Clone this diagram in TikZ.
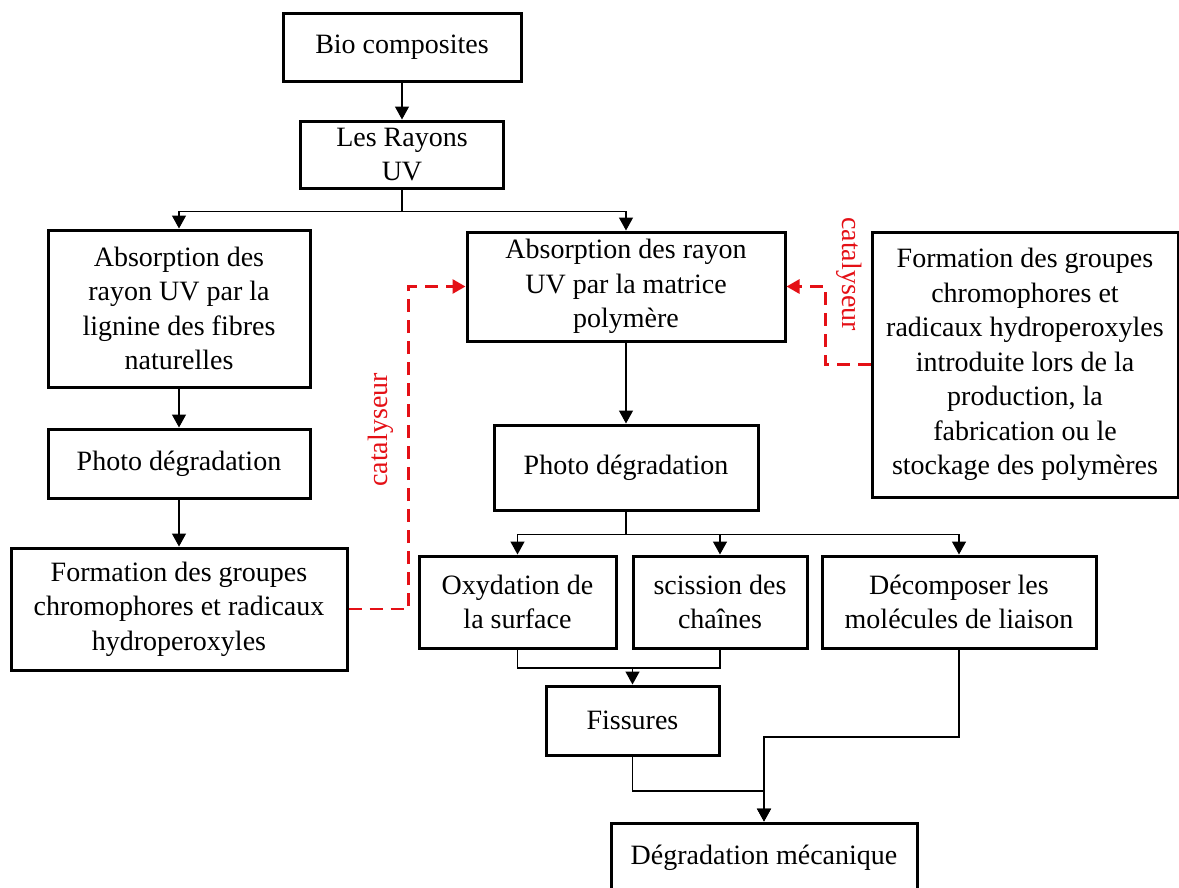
\documentclass[tikz,border=0pt]{standalone}
\usepackage{fontspec}
\setmainfont{Liberation Serif}
\usetikzlibrary{arrows.meta,positioning,calc}
\definecolor{catred}{RGB}{228,16,22}

\begin{document}
\begin{tikzpicture}[x=1pt, y=-1pt, >={Triangle[width=14pt,length=13pt]}]
\tikzstyle{box} = [draw, rectangle, line width=3pt, inner sep=0pt, align=center, font=\fontsize{28}{34.5}\selectfont]
\tikzstyle{link} = [line width=1.4pt]
\tikzstyle{catline} = [draw=catred, line width=2.8pt, dash pattern=on 13pt off 8pt, ->]
\tikzstyle{catlab} = [text=catred, inner sep=0pt, font=\fontsize{28}{34}\selectfont]

\useasboundingbox (0,0) rectangle (1179,887);
\clip (0,0) rectangle (1179,887);

\node[box, minimum width=238pt, minimum height=68pt] (bio) at (402,47) {Bio composites};
\node[box, minimum width=203pt, minimum height=67pt] (uv) at (402,154.5) {Les Rayons\\UV};

% left branch
\node[box, minimum width=262pt, minimum height=157pt] (absl) at (179,308.5) {Absorption des\\rayon UV par la\\lignine des fibres\\naturelles};
\node[box, minimum width=262pt, minimum height=69pt] (photol) at (179,463.5) {Photo dégradation};
\node[box, minimum width=336pt, minimum height=122pt] (forml) at (179,609) {Formation des groupes\\chromophores et radicaux\\hydroperoxyles};

% middle branch
\node[box, minimum width=318pt, minimum height=109pt] (absm) at (626,286.5) {Absorption des rayon\\UV par la matrice\\polymère};
\node[box, minimum width=264pt, minimum height=85pt] (photom) at (626,467.5) {Photo dégradation};
\node[box, minimum width=197pt, minimum height=92pt] (oxy) at (517.5,602) {Oxydation de\\la surface};
\node[box, minimum width=174pt, minimum height=92pt] (sci) at (720,602) {scission des\\chaînes};
\node[box, minimum width=274pt, minimum height=92pt] (dec) at (959,602) {Décomposer les\\molécules de liaison};
\node[box, minimum width=173pt, minimum height=69pt] (fis) at (632.5,720.5) {Fissures};
\node[box, minimum width=306pt, minimum height=70pt] (degm) at (764,858) {Dégradation mécanique};

% right box
\node[box, minimum width=306pt, minimum height=265pt] (formr) at (1025,364.5) {Formation des groupes\\chromophores et\\radicaux hydroperoxyles\\introduite lors de la\\production, la\\fabrication ou le\\stockage des polymères};

\coordinate (jn) at (632.5,668);
\coordinate (dk) at (764,737);
\coordinate (mg) at (764,791);

\draw[link,->] (bio) -- (uv);
\draw[link,->] (uv.south) -- ++(0,22) -| (absl.north);
\draw[link,->] (uv.south) -- ++(0,22) -| (absm.north);
\draw[link,->] (absl) -- (photol);
\draw[link,->] (photol) -- (forml);
\draw[link,->] (absm) -- (photom);
\draw[link,->] (photom.south) -- ++(0,23) -| (oxy.north);
\draw[link,->] (photom.south) -- ++(0,23) -| (sci.north);
\draw[link,->] (photom.south) -- ++(0,23) -| (dec.north);
\draw[link] (oxy.south) |- (jn) -| (sci.south);
\draw[link,->] (jn) -- (fis.north);
\draw[link,->] (fis.south) |- (mg) -- (degm.north);
\draw[link,->] (dec.south) |- (dk) -- (degm.north);

% catalyseur
\draw[catline] (forml.east) -- ++(60,0) |- (absm.west);
\draw[catline] (formr.west) -- ++(-45,0) |- (absm.east);
\node[catlab, rotate=90] (catl) at (381,430) {catalyseur};
\node[catlab, rotate=-90] (catr) at (849,274) {catalyseur};
\end{tikzpicture}
\end{document}
